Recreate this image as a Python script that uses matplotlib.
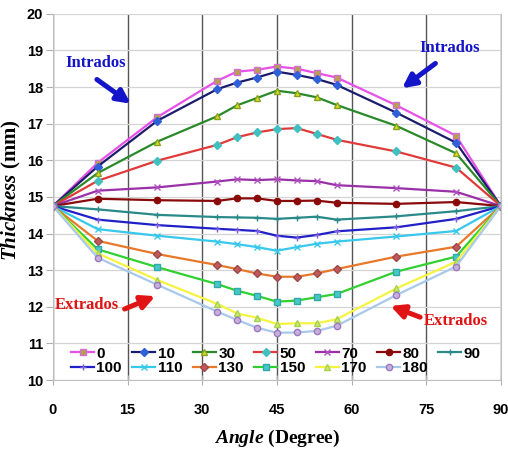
import numpy as np
import matplotlib
matplotlib.use("Agg")
import matplotlib.pyplot as plt

# Thickness vs angle for different positions
angles = [0, 9, 21, 33, 37, 41, 45, 49, 53, 57, 69, 81, 90]

s0 = [14.75, 15.93, 17.18, 18.17, 18.42, 18.47, 18.56, 18.50, 18.38, 18.26, 17.50, 16.67, 14.75]
s10 = [14.75, 15.83, 17.08, 17.94, 18.12, 18.26, 18.42, 18.33, 18.22, 18.06, 17.30, 16.48, 14.75]
s30 = [14.75, 15.65, 16.51, 17.20, 17.50, 17.70, 17.90, 17.83, 17.72, 17.51, 16.94, 16.19, 14.75]
s50 = [14.75, 15.44, 15.99, 16.42, 16.63, 16.76, 16.85, 16.88, 16.72, 16.56, 16.24, 15.80, 14.75]
s70 = [14.75, 15.17, 15.26, 15.42, 15.48, 15.46, 15.48, 15.45, 15.43, 15.32, 15.24, 15.14, 14.75]
s80 = [14.75, 14.95, 14.91, 14.89, 14.96, 14.96, 14.89, 14.89, 14.90, 14.84, 14.81, 14.86, 14.75]
s90 = [14.75, 14.66, 14.51, 14.45, 14.44, 14.43, 14.40, 14.43, 14.46, 14.38, 14.47, 14.61, 14.75]
s100 = [14.75, 14.38, 14.23, 14.13, 14.10, 14.07, 13.94, 13.89, 13.96, 14.06, 14.17, 14.40, 14.75]
s110 = [14.75, 14.12, 13.94, 13.78, 13.71, 13.63, 13.53, 13.63, 13.72, 13.78, 13.92, 14.07, 14.75]
s130 = [14.75, 13.80, 13.44, 13.14, 13.03, 12.91, 12.82, 12.82, 12.91, 13.03, 13.37, 13.64, 14.75]
s150 = [14.75, 13.57, 13.08, 12.62, 12.44, 12.30, 12.14, 12.17, 12.26, 12.35, 12.96, 13.37, 14.75]
s170 = [14.75, 13.46, 12.73, 12.08, 11.82, 11.70, 11.53, 11.55, 11.55, 11.66, 12.50, 13.23, 14.75]
s180 = [14.75, 13.34, 12.60, 11.87, 11.64, 11.43, 11.29, 11.30, 11.34, 11.48, 12.32, 13.10, 14.75]

labels = ['0', '10', '30', '50', '70', '80', '90',
          '100', '110', '130', '150', '170', '180']
series = [s0, s10, s30, s50, s70, s80, s90,
          s100, s110, s130, s150, s170, s180]

# (line colour, marker, marker face, marker edge)
styles = [
    ('#e850e8', 's', '#b8a04a', '#d070d0'),
    ('#1c1c6c', 'D', '#3060d8', '#3060d8'),
    ('#2a8a2a', '^', '#d8e020', '#8aa020'),
    ('#e03a3a', 'D', '#40c0c0', '#40c0c0'),
    ('#9a30a8', 'x', '#b050c0', '#b050c0'),
    ('#8a0a0a', 'o', '#8a0a0a', '#8a0a0a'),
    ('#2a8a8a', '+', '#2a8a8a', '#2a8a8a'),
    ('#2020c8', '+', '#8060e0', '#8060e0'),
    ('#38c8ec', 'x', '#38c8ec', '#38c8ec'),
    ('#e8782a', 'D', '#c05a5a', '#a04848'),
    ('#30d030', 's', '#48c8c8', '#30a8a8'),
    ('#f4f440', '^', '#c8ec70', '#a8d050'),
    ('#a8c8ec', 'o', '#c8b0dc', '#9a78c0'),
]

plt.rcParams['mathtext.fontset'] = 'custom'
plt.rcParams['mathtext.it'] = 'Liberation Serif:italic:bold'
plt.rcParams['mathtext.rm'] = 'Liberation Serif:bold'

tickfont = ['Liberation Sans', 'DejaVu Sans']

fig = plt.figure(figsize=(5.08, 4.59), dpi=100)
ax = fig.add_axes([0.104, 0.172, 0.882, 0.798])

handles = []
for y, lab, (c, m, fc, ec) in zip(series, labels, styles):
    h, = ax.plot(angles, y, color=c, lw=1.6, marker=m, markersize=4.5,
                 markerfacecolor=fc, markeredgecolor=ec, markeredgewidth=1.0,
                 label=lab)
    handles.append(h)

ax.set_xlim(0, 90)
ax.set_ylim(10, 20)
ax.set_xticks(np.arange(0, 91, 15))
ax.set_yticks(np.arange(10, 21, 1))

ax.yaxis.grid(True, color='#d4d4d4', lw=0.9)
ax.xaxis.grid(True, color='#555555', lw=1.0)
ax.set_axisbelow(True)
for s in ['left', 'bottom', 'right', 'top']:
    ax.spines[s].set_color('#c0c0c0')
ax.spines['top'].set_visible(False)

ax.tick_params(axis='y', direction='out', length=5, color='#b0b0b0', pad=2)
ax.tick_params(axis='x', direction='inout', length=7, color='#b0b0b0', pad=13)
for t in ax.get_xticklabels() + ax.get_yticklabels():
    t.set_fontfamily(tickfont)
    t.set_fontweight('bold')
    t.set_fontsize(10.5)

ax.set_xlabel(r'$\mathit{Angle}$ (Degree)', fontsize=14,
              fontfamily='Liberation Serif', fontweight='bold', labelpad=8)
ax.set_ylabel(r'$\mathit{Thickness}$ (mm)', fontsize=15,
              fontfamily='Liberation Serif', fontweight='bold')
ax.yaxis.set_label_coords(-0.066, 0.52)

# legend filled row by row: 7 on top, 6 below
order = [0, 7, 1, 8, 2, 9, 3, 10, 4, 11, 5, 12, 6]
leg = ax.legend([handles[i] for i in order], [labels[i] for i in order],
                ncol=7, loc='lower left', bbox_to_anchor=(0.01, -0.025),
                frameon=False, handlelength=1.5, handletextpad=0.15,
                columnspacing=0.7, labelspacing=0.05,
                prop={'family': tickfont, 'weight': 'bold', 'size': 11})

# annotations
blue = '#1414c8'
red = '#e01414'
txt = dict(fontfamily='Liberation Serif', fontweight='bold', fontsize=12,
           ha='center', va='center')
arr = lambda col: dict(arrowstyle='-|>', color=col, lw=3.6, mutation_scale=20)

ax.text(8.6, 18.66, 'Intrados', color=blue, **txt)
ax.annotate('', xy=(16.1, 17.5), xytext=(8.4, 18.25), arrowprops=arr(blue))
ax.text(79.7, 19.07, 'Intrados', color=blue, **txt)
ax.annotate('', xy=(69.7, 17.92), xytext=(77.3, 18.69), arrowprops=arr(blue))
ax.text(6.8, 12.05, 'Extrados', color=red, **txt)
ax.annotate('', xy=(21.1, 12.32), xytext=(13.9, 11.91), arrowprops=arr(red))
ax.text(81.0, 11.6, 'Extrados', color=red, **txt)
ax.annotate('', xy=(67.3, 12.05), xytext=(74.3, 11.69), arrowprops=arr(red))

fig.savefig('out.png', dpi=100)
